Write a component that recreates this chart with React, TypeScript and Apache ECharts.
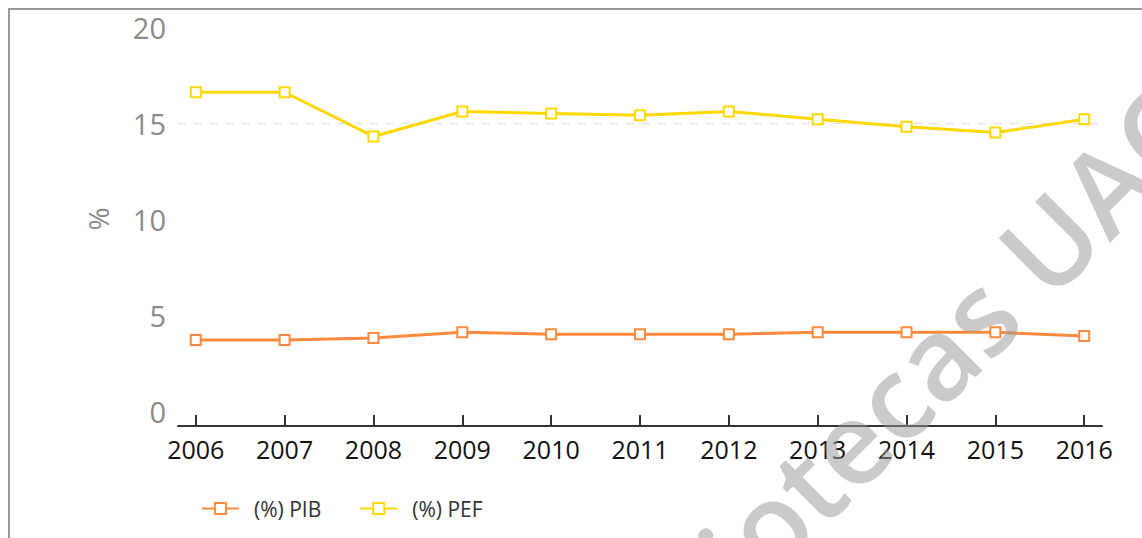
import React, { useEffect, useRef } from "react";
import * as echarts from "echarts";

const years = [2006, 2007, 2008, 2009, 2010, 2011, 2012, 2013, 2014, 2015, 2016];
const pib = [3.7, 3.7, 3.8, 4.1, 4.0, 4.0, 4.0, 4.1, 4.1, 4.1, 3.9];
const pef = [16.6, 16.6, 14.3, 15.6, 15.5, 15.4, 15.6, 15.2, 14.8, 14.5, 15.2];
const seriesNames = ["(%) PIB", "(%) PEF"];
const yTicks = [0, 5, 10, 15, 20];

const ORANGE = "#FF8A3D";
const YELLOW = "#FFD800";

export default function App() {
  const ref = useRef<HTMLDivElement>(null);
  useEffect(() => {
    if (!ref.current) return;
    const chart = echarts.init(ref.current, null, { renderer: "svg" });
    const mk = (name: string, vals: number[], color: string) => ({
      name,
      type: "line",
      data: years.map((y, i) => [y, vals[i]]),
      symbol: "emptyRect",
      symbolSize: 10,
      lineStyle: { color, width: 3 },
      itemStyle: { color, borderWidth: 2 },
      emphasis: { disabled: true },
    });
    chart.setOption({
      animation: false,
      backgroundColor: "#ffffff",
      grid: { left: 178, right: 40, top: 27, bottom: 127 },
      legend: {
        left: 196,
        top: 493,
        itemWidth: 37,
        itemHeight: 14,
        itemGap: 38,
        textStyle: {
          fontFamily: "Open Sans",
          fontSize: 21,
          color: "#333333",
          padding: [0, 0, 0, 10],
        },
        data: seriesNames,
      },
      xAxis: {
        type: "value",
        min: 2005.8,
        max: 2016.2,
        offset: 15,
        axisLine: { show: true, onZero: false, lineStyle: { color: "#333333", width: 2 } },
        axisTick: {
          show: true,
          inside: true,
          length: 11,
          customValues: years,
          lineStyle: { color: "#333333", width: 2 },
        },
        axisLabel: {
          customValues: years,
          formatter: (v: number) => String(v),
          color: "#111111",
          fontFamily: "Open Sans",
          fontSize: 25,
          margin: 10,
        },
        splitLine: { show: false },
      },
      yAxis: {
        type: "value",
        min: yTicks[0],
        max: yTicks[yTicks.length - 1],
        interval: 5,
        name: "%",
        nameLocation: "middle",
        nameRotate: 90,
        nameGap: 66,
        nameTextStyle: { color: "#8a8a8a", fontFamily: "Open Sans", fontSize: 28 },
        axisLine: { show: false },
        axisTick: { show: false },
        axisLabel: {
          color: "#8a8a8a",
          fontFamily: "Open Sans",
          fontSize: 29,
          margin: 12,
        },
        splitLine: {
          show: true,
          lineStyle: {
            color: ["transparent", "transparent", "transparent", "#dcdcf0", "transparent"],
            type: [8, 8],
            width: 1,
          },
        },
      },
      graphic: [
        {
          type: "text",
          x: 569,
          y: 721,
          rotation: Math.PI / 4,
          silent: true,
          z: 100,
          style: {
            text: "Bibliotecas UAO",
            fontFamily: "Open Sans",
            fontWeight: 600,
            fontSize: 115,
            fill: "rgba(150,150,150,0.5)",
            textAlign: "left",
            textVerticalAlign: "middle",
          },
        },
      ],
      series: [mk(seriesNames[0], pib, ORANGE), mk(seriesNames[1], pef, YELLOW)],
    });
    return () => chart.dispose();
  }, []);
  return (
    <div style={{ position: "fixed", left: 0, top: 0, width: 1142, height: 538, overflow: "hidden", background: "#fff" }}>
      <div ref={ref} style={{ position: "absolute", left: 0, top: 0, width: 1142, height: 538 }} />
      <div
        style={{
          position: "absolute",
          left: 8,
          top: 8,
          width: 1300,
          height: 700,
          borderLeft: "2px solid #9a9a9a",
          borderTop: "2px solid #9a9a9a",
          pointerEvents: "none",
        }}
      />
    </div>
  );
}
